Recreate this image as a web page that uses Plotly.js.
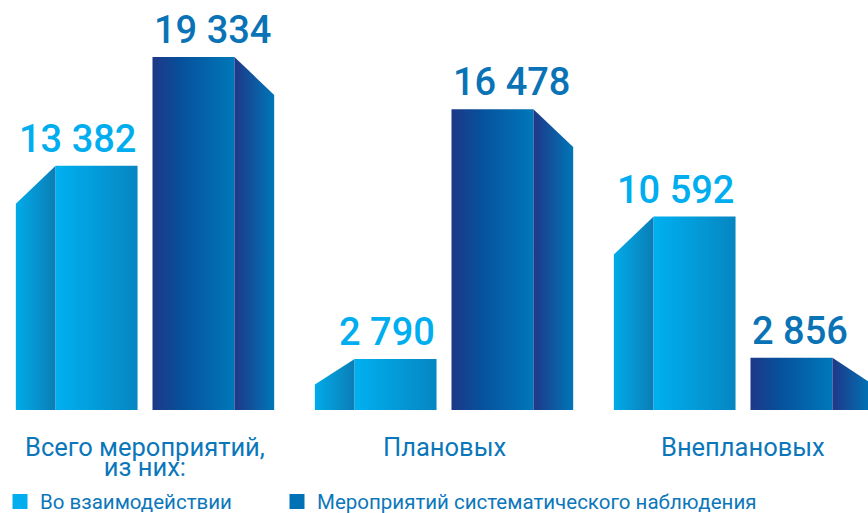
<!DOCTYPE html>
<html>
<head>
<meta charset="utf-8">
<script src="https://cdn.plot.ly/plotly-3.0.1.min.js"></script>
<style>
html,body{margin:0;padding:0;background:#fff;}
#chart{width:868px;height:513px;}
</style>
</head>
<body>
<div id="chart"></div>
<script>
// ---- data ----
const categories = ["Всего мероприятий,<br>из них:", "Плановых", "Внеплановых"];
const seriesNames = ["Во взаимодействии", "Мероприятий систематического наблюдения"];
const interaction = [13382, 2790, 10592];
const systematic = [19334, 16478, 2856];
const valueLabels = [["13 382", "2 790", "10 592"], ["19 334", "16 478", "2 856"]];

// ---- styling / geometry (not data) ----
const TEXT_BLUE = '#0b77ba';
const LIGHT_LABEL = '#00aeef';
const DARK_LABEL = '#0a73b6';
const gap = 0.025, fw = 0.274, sw = 0.133;
const maxDrop = 2080, dropRatio = 0.5;
const lightFront = [[0,'#00b0f0'],[1,'#0686c2']];
const lightSide  = [[0,'#00abe9'],[1,'#0b7db5']];
const darkFront  = [[0,'#1e3887'],[0.35,'#07509c'],[1,'#0078b9']];
const darkSide   = [[0,'#1e3887'],[1,'#0076b8']];

const traces = [];
const annotations = [];
function poly(xs, ys, cs) {
  traces.push({
    type: 'scatter', mode: 'lines', x: xs, y: ys, fill: 'toself',
    line: {width: 0, color: 'rgba(0,0,0,0)'},
    fillgradient: {type: 'horizontal', colorscale: cs},
    showlegend: false, hoverinfo: 'skip'
  });
}

categories.forEach((cat, i) => {
  const c = i;
  // light series
  const v1 = interaction[i];
  const d1 = Math.min(maxDrop, v1 * dropRatio);
  const L = c - gap - fw, R1 = c - gap;
  poly([L - sw, L - sw, L, L, L - sw], [0, v1 - d1, v1, 0, 0], lightSide);
  poly([L, L, R1, R1, L], [0, v1, v1, 0, 0], lightFront);
  annotations.push({x: R1, y: v1, xref: 'x', yref: 'y', text: valueLabels[0][i],
    showarrow: false, xanchor: 'right', yanchor: 'bottom', xshift: 0, yshift: 3,
    font: {family: 'Roboto', size: 38, color: LIGHT_LABEL, weight: 500}});
  // dark series
  const v2 = systematic[i];
  const d2 = Math.min(maxDrop, v2 * dropRatio);
  const L2 = c + gap, R2 = c + gap + fw;
  poly([L2, L2, R2, R2, L2], [0, v2, v2, 0, 0], darkFront);
  poly([R2, R2, R2 + sw, R2 + sw, R2], [0, v2, v2 - d2, 0, 0], darkSide);
  annotations.push({x: L2, y: v2, xref: 'x', yref: 'y', text: valueLabels[1][i],
    showarrow: false, xanchor: 'left', yanchor: 'bottom', xshift: 0, yshift: 3,
    font: {family: 'Roboto', size: 38, color: DARK_LABEL, weight: 500}});
  // category label (tight line spacing: small base font, larger inner spans)
  const txt = cat.split('<br>').map(s => '<span style="font-size:25.5px">' + s + '</span>').join('<br>');
  annotations.push({x: c, y: 0, xref: 'x', yref: 'paper', text: txt,
    showarrow: false, xanchor: 'center', yanchor: 'top', yshift: -20, align: 'center',
    font: {family: 'Roboto', size: 15.4, color: TEXT_BLUE}});
});

// legend entries (one legend per series so spacing matches the reference)
traces.push({type: 'scatter', mode: 'markers', x: [null], y: [null], name: seriesNames[0],
  marker: {symbol: 'square', size: 15, color: '#00aeef'}, hoverinfo: 'skip', legend: 'legend'});
traces.push({type: 'scatter', mode: 'markers', x: [null], y: [null], name: seriesNames[1],
  marker: {symbol: 'square', size: 15, color: '#0072b5'}, hoverinfo: 'skip', legend: 'legend2'});

const legendFont = {family: 'Roboto', size: 20.5, color: TEXT_BLUE};
const layout = {
  width: 868, height: 513,
  margin: {l: 0, r: 0, t: 8, b: 103, pad: 0, autoexpand: false},
  paper_bgcolor: '#ffffff', plot_bgcolor: '#ffffff',
  showlegend: true,
  legend: {orientation: 'h', x: 0, xanchor: 'left', y: -0.178, yanchor: 'top',
    font: legendFont, itemwidth: 30, bgcolor: 'rgba(0,0,0,0)'},
  legend2: {orientation: 'h', x: 277/868, xanchor: 'left', y: -0.178, yanchor: 'top',
    font: legendFont, itemwidth: 30, bgcolor: 'rgba(0,0,0,0)'},
  xaxis: {range: [-0.485, 2.418], showgrid: false, zeroline: false, showticklabels: false,
    showline: false, ticks: '', fixedrange: true},
  yaxis: {range: [0, 22018], showgrid: false, zeroline: false, showticklabels: false,
    showline: false, ticks: '', fixedrange: true},
  annotations: annotations,
  hovermode: false
};

Plotly.newPlot('chart', traces, layout, {displayModeBar: false, staticPlot: true});
</script>
</body>
</html>
